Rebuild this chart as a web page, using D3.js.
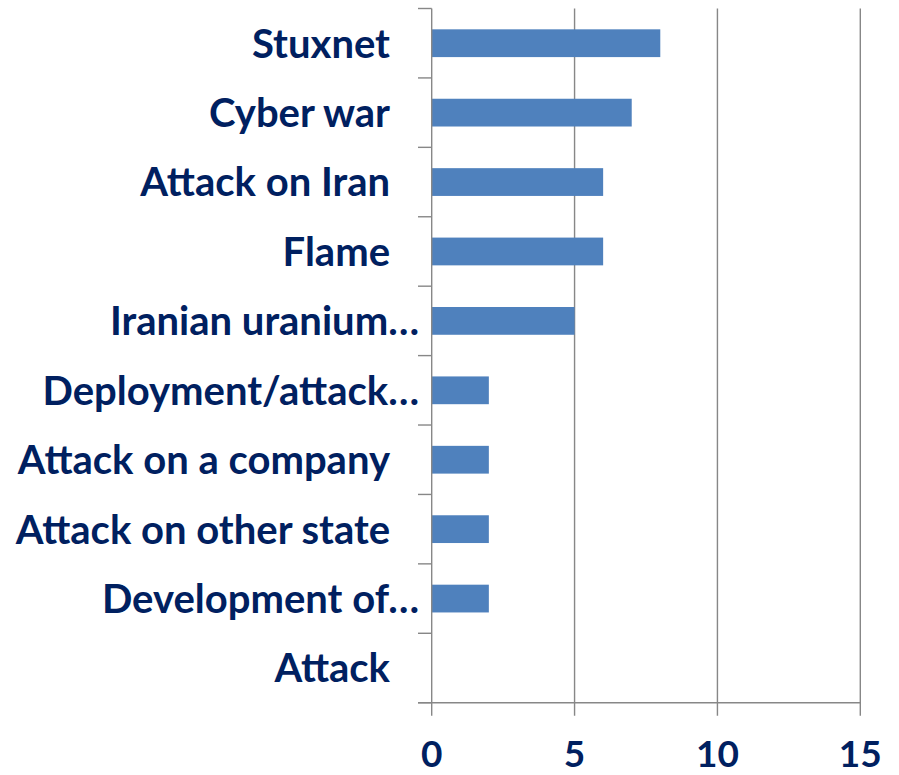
<!DOCTYPE html>
<html>
<head>
<meta charset="utf-8">
<script src="https://cdn.jsdelivr.net/npm/d3@7"></script>
<style>
html,body{margin:0;padding:0;background:#fff;}
svg{display:block;}
</style>
</head>
<body>
<svg id="chart" width="899" height="775"></svg>
<script>
const categories = ["Stuxnet","Cyber war","Attack on Iran","Flame","Iranian uranium…","Deployment/attack…","Attack on a company","Attack on other state","Development of…","Attack"];
const values = [8,7,6,6,5,2,2,2,2,0];
const xTicks = [0,5,10,15];

const svg = d3.select("#chart");
const x = d3.scaleLinear().domain([0,15]).range([431.7,860.3]);
const y = d3.scaleBand().domain(categories).range([8.5,702.7]).paddingInner(0.6).paddingOuter(0.3);
const step = y.step();
const top0 = 8.5, bottom0 = 702.7;
const gridColor = "#878787";
const textColor = "#002060";
const fontFam = "Lato, 'Open Sans', sans-serif";

// gridlines
svg.append("g").selectAll("line").data(xTicks.filter(d=>d>0)).join("line")
  .attr("x1",d=>x(d)).attr("x2",d=>x(d)).attr("y1",top0).attr("y2",bottom0+13)
  .attr("stroke",gridColor).attr("stroke-width",1.4);

// bars
svg.append("g").selectAll("rect").data(categories.map((c,i)=>({c,v:values[i]}))).join("rect")
  .attr("x",x(0)).attr("y",d=>y(d.c)).attr("width",d=>x(d.v)-x(0)).attr("height",y.bandwidth())
  .attr("fill","#4F81BD");

// y axis line
svg.append("line").attr("x1",x(0)).attr("x2",x(0)).attr("y1",top0).attr("y2",bottom0+13)
  .attr("stroke",gridColor).attr("stroke-width",1.4);
// category ticks
svg.append("g").selectAll("line").data(d3.range(categories.length+1)).join("line")
  .attr("x1",418).attr("x2",x(0)).attr("y1",i=>top0+i*step).attr("y2",i=>top0+i*step)
  .attr("stroke",gridColor).attr("stroke-width",1.4);
// x axis line
svg.append("line").attr("x1",418).attr("x2",x(15)).attr("y1",bottom0).attr("y2",bottom0)
  .attr("stroke",gridColor).attr("stroke-width",1.4);

// category labels
svg.append("g").selectAll("text").data(categories).join("text")
  .attr("x",d=>d.endsWith("…")?419:390)
  .attr("y",d=>y(d)+y.bandwidth()/2)
  .attr("dy","0.36em")
  .attr("text-anchor","end")
  .attr("font-family",fontFam).attr("font-weight","bold").attr("font-size",40)
  .attr("fill",textColor)
  .text(d=>d);

// x tick labels
svg.append("g").selectAll("text").data(xTicks).join("text")
  .attr("x",d=>x(d)).attr("y",754).attr("dy","0.36em")
  .attr("text-anchor","middle")
  .attr("font-family",fontFam).attr("font-weight","bold").attr("font-size",37)
  .attr("fill",textColor)
  .text(d=>d);
</script>
</body>
</html>
